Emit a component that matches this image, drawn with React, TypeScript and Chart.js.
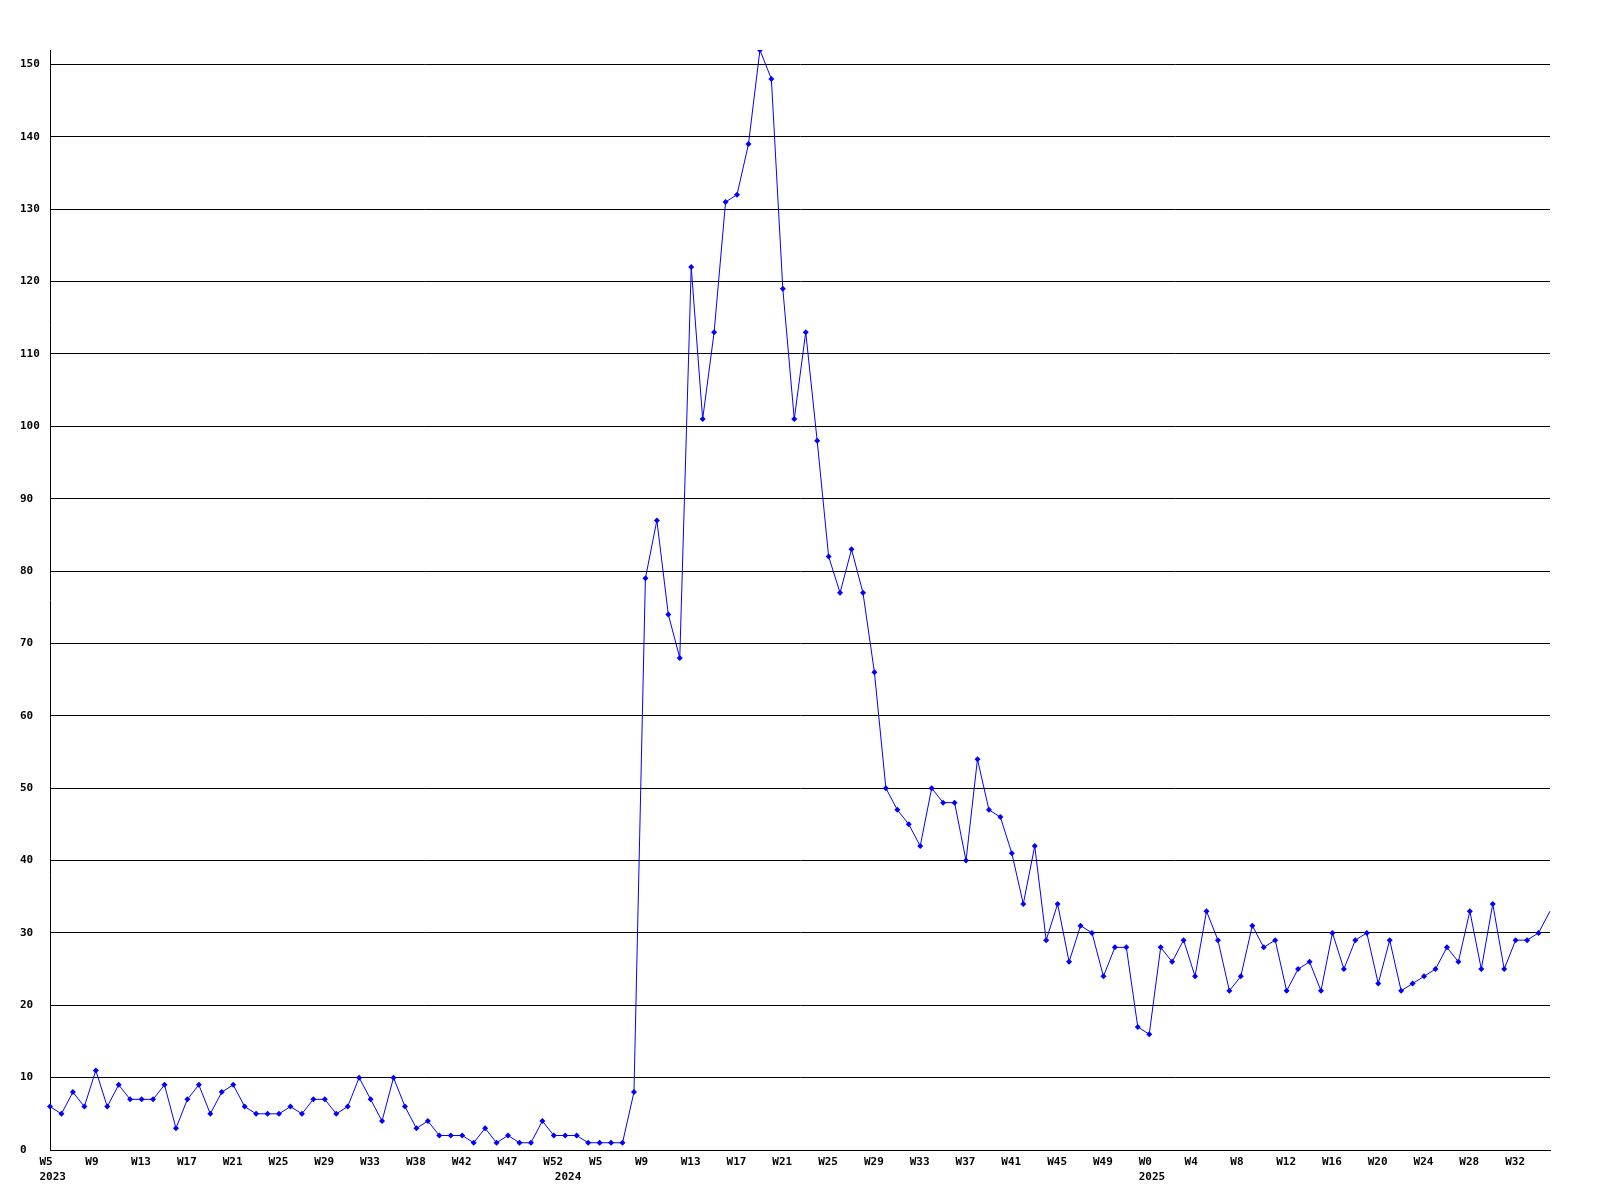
import React, { useEffect, useRef } from "react";
import { Chart, registerables } from "chart.js";

Chart.register(...registerables);

// Weekly values, one per point (2023 W5 .. 2025 W35)
const values: number[] = [
  6, 5, 8, 6, 11, 6, 9, 7, 7, 7,
  9, 3, 7, 9, 5, 8, 9, 6, 5, 5,
  5, 6, 5, 7, 7, 5, 6, 10, 7, 4,
  10, 6, 3, 4, 2, 2, 2, 1, 3, 1,
  2, 1, 1, 4, 2, 2, 2, 1, 1, 1,
  1, 8, 79, 87, 74, 68, 122, 101, 113, 131,
  132, 139, 152, 148, 119, 101, 113, 98, 82, 77,
  83, 77, 66, 50, 47, 45, 42, 50, 48, 48,
  40, 54, 47, 46, 41, 34, 42, 29, 34, 26,
  31, 30, 24, 28, 28, 17, 16, 28, 26, 29,
  24, 33, 29, 22, 24, 31, 28, 29, 22, 25,
  26, 22, 30, 25, 29, 30, 23, 29, 22, 23,
  24, 25, 28, 26, 33, 25, 34, 25, 29, 29,
  30, 33,
];

// Week tick labels, shown on every 4th point
const weekTicks: string[] = [
  "W5", "W9", "W13", "W17", "W21", "W25", "W29", "W33", "W38", "W42", "W47", "W52",
  "W5", "W9", "W13", "W17", "W21", "W25", "W29", "W33", "W37", "W41", "W45", "W49",
  "W0", "W4", "W8", "W12", "W16", "W20", "W24", "W28", "W32",
];
const weekTickStep = 4;

// Year labels and the point index they sit under
const years: string[] = ["2023", "2024", "2025"];
const yearIndex: number[] = [0, 45, 96];

const yMax = 152;
const yStep = 10;

function buildLabels(): (string | string[])[] {
  const out: (string | string[])[] = values.map(() => "");
  weekTicks.forEach((w, k) => {
    out[k * weekTickStep] = w;
  });
  years.forEach((y, k) => {
    const i = yearIndex[k];
    const w = out[i];
    out[i] = [typeof w === "string" ? w : "", y];
  });
  return out;
}

export default function App() {
  const ref = useRef<HTMLCanvasElement | null>(null);

  useEffect(() => {
    if (!ref.current) return;
    const font = { family: "'DejaVu Sans Mono', monospace", size: 11, weight: "bold" as const, lineHeight: 1.36 };
    const chart = new Chart(ref.current, {
      type: "line",
      data: {
        labels: buildLabels(),
        datasets: [
          {
            data: values,
            borderColor: "#0000ff",
            backgroundColor: "#0000ff",
            borderWidth: 1,
            pointStyle: "rectRot",
            pointRadius: (ctx: any) => (ctx.dataIndex === values.length - 1 ? 0 : 3),
            pointBorderWidth: 0,
            tension: 0,
            fill: false,
          },
        ],
      },
      options: {
        animation: false,
        responsive: false,
        events: [],
        layout: { padding: { left: 20, right: 50, top: 50, bottom: 0 } },
        plugins: { legend: { display: false }, tooltip: { enabled: false } },
        scales: {
          x: {
            type: "category",
            grid: { display: false, drawTicks: false },
            border: { display: true, color: "#000000", width: 1 },
            ticks: {
              autoSkip: false,
              maxRotation: 0,
              minRotation: 0,
              align: "start",
              labelOffset: -10.5,
              padding: 4.5,
              color: "#000000",
              font,
            },
            afterFit: (scale: any) => {
              scale.height = 50;
            },
          },
          y: {
            min: 0,
            max: yMax,
            grid: { color: "#000000", lineWidth: 1, drawTicks: false },
            border: { display: true, color: "#000000", width: 1 },
            ticks: {
              stepSize: yStep,
              includeBounds: false,
              crossAlign: "far",
              padding: 10,
              color: "#000000",
              font,
            },
            afterFit: (scale: any) => {
              scale.width = 30;
            },
          },
        },
      },
    });
    return () => chart.destroy();
  }, []);

  return (
    <div style={{ position: "absolute", left: 0, top: 0, width: 1600, height: 1200, background: "#ffffff" }}>
      <canvas ref={ref} width={1600} height={1200} style={{ display: "block" }} />
    </div>
  );
}
